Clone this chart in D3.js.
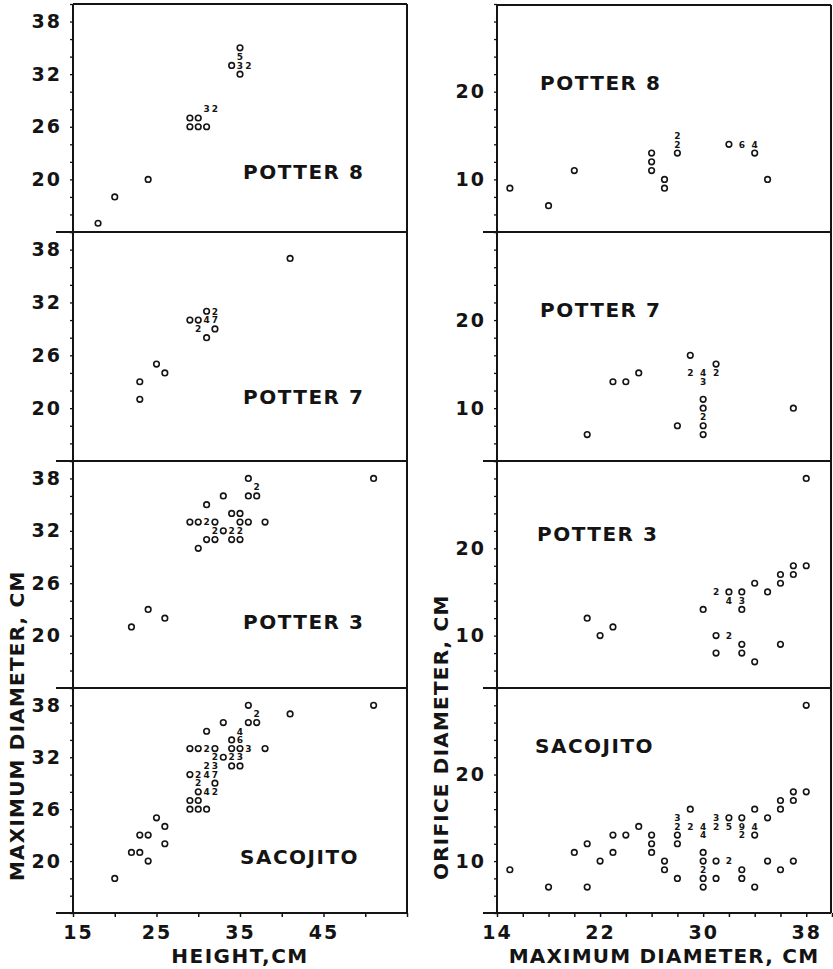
<!DOCTYPE html>
<html><head><meta charset="utf-8">
<script src="https://cdn.jsdelivr.net/npm/d3@7/dist/d3.min.js"></script>
<style>body{margin:0;background:#fff}svg{display:block}</style>
</head><body>
<svg id="c" width="833" height="969"></svg>
<script>
// ---------- DATA ----------
const panelNames = ["POTTER 8", "POTTER 7", "POTTER 3", "SACOJITO"];

// [height, max diameter, number of vessels] (n>1 is printed as a digit)
const potter8HeightMaxD = [[18,15,1],[20,18,1],[24,20,1],[29,27,1],[30,27,1],[29,26,1],[30,26,1],[31,26,1],[31,28,3],[32,28,2],[35,35,1],[35,34,5],[34,33,1],[35,33,3],[36,33,2],[35,32,1]];
const potter7HeightMaxD = [[41,37,1],[31,31,1],[32,31,2],[29,30,1],[30,30,1],[31,30,4],[32,30,7],[30,29,2],[32,29,1],[31,28,1],[25,25,1],[26,24,1],[23,23,1],[23,21,1]];
const potter3HeightMaxD = [[36,38,1],[37,37,2],[51,38,1],[33,36,1],[36,36,1],[37,36,1],[31,35,1],[34,34,1],[35,34,1],[29,33,1],[30,33,1],[31,33,2],[32,33,1],[35,33,1],[36,33,1],[38,33,1],[32,32,2],[33,32,1],[34,32,2],[35,32,2],[31,31,1],[32,31,1],[34,31,1],[35,31,1],[30,30,1],[22,21,1],[24,23,1],[26,22,1]];
const sacojitoHeightMaxD = [[36,38,1],[37,37,2],[51,38,1],[41,37,1],[33,36,1],[36,36,1],[37,36,1],[31,35,1],[35,35,4],[34,34,1],[35,34,6],[29,33,1],[30,33,1],[31,33,2],[32,33,1],[34,33,1],[35,33,1],[36,33,3],[38,33,1],[32,32,2],[33,32,1],[34,32,2],[35,32,3],[31,31,2],[32,31,3],[34,31,1],[35,31,1],[29,30,1],[30,30,2],[31,30,4],[32,30,7],[30,29,2],[32,29,1],[30,28,1],[31,28,4],[32,28,2],[29,27,1],[30,27,1],[29,26,1],[30,26,1],[31,26,1],[25,25,1],[26,24,1],[23,23,1],[24,23,1],[26,22,1],[22,21,1],[23,21,1],[24,20,1],[20,18,1]];

// [max diameter, orifice diameter, number of vessels]
const potter8MaxDOrifice = [[15,9,1],[18,7,1],[20,11,1],[26,13,1],[26,12,1],[26,11,1],[27,10,1],[27,9,1],[28,13,1],[28,14,2],[28,15,2],[32,14,1],[33,14,6],[34,14,4],[34,13,1],[35,10,1]];
const potter7MaxDOrifice = [[21,7,1],[23,13,1],[24,13,1],[25,14,1],[29,16,1],[29,14,2],[30,14,4],[31,15,1],[31,14,2],[30,13,3],[30,11,1],[30,10,1],[30,9,2],[30,8,1],[30,7,1],[28,8,1],[37,10,1]];
const potter3MaxDOrifice = [[38,28,1],[37,18,1],[38,18,1],[36,17,1],[37,17,1],[36,16,1],[34,16,1],[35,15,1],[31,15,2],[32,15,1],[33,15,1],[32,14,4],[33,14,3],[33,13,1],[30,13,1],[21,12,1],[22,10,1],[23,11,1],[31,10,1],[32,10,2],[33,9,1],[31,8,1],[33,8,1],[34,7,1],[36,9,1]];
const sacojitoMaxDOrifice = [[38,28,1],[37,18,1],[38,18,1],[36,17,1],[37,17,1],[36,16,1],[34,16,1],[29,16,1],[35,15,1],[32,15,1],[33,15,1],[28,15,3],[28,14,2],[29,14,2],[30,14,4],[31,15,3],[31,14,2],[32,14,5],[33,14,9],[34,14,4],[30,13,4],[33,13,2],[34,13,1],[28,13,1],[25,14,1],[24,13,1],[23,13,1],[26,13,1],[26,12,1],[28,12,1],[21,12,1],[20,11,1],[23,11,1],[26,11,1],[22,10,1],[27,10,1],[30,11,1],[30,10,1],[31,10,1],[32,10,2],[35,10,1],[37,10,1],[15,9,1],[27,9,1],[30,9,2],[33,9,1],[36,9,1],[18,7,1],[21,7,1],[28,8,1],[30,8,1],[31,8,1],[33,8,1],[30,7,1],[34,7,1]];

const heightDomain = [15, 55];
const maxDiamDomain = [14, 40];
const orificeDomain = [4, 30];
const heightTicks = [15, 20, 25, 30, 35, 40, 45, 50, 55];
const heightTickLabels = [15, 25, 35, 45];
const maxDiamTicks = [14,16,18,20,22,24,26,28,30,32,34,36,38,40];
const maxDiamTickLabels = [20, 26, 32, 38];
const maxDiamXTickLabels = [14, 22, 30, 38];
const orificeTicks = [4,6,8,10,12,14,16,18,20,22,24,26,28,30];
const orificeTickLabels = [10, 20];
const leftXTitle = "HEIGHT,CM";
const rightXTitle = "MAXIMUM DIAMETER, CM";
const leftYTitle = "MAXIMUM DIAMETER, CM";
const rightYTitle = "ORIFICE DIAMETER, CM";

const leftData = [potter8HeightMaxD, potter7HeightMaxD, potter3HeightMaxD, sacojitoHeightMaxD];
const rightData = [potter8MaxDOrifice, potter7MaxDOrifice, potter3MaxDOrifice, sacojitoMaxDOrifice];

// ---------- LAYOUT ----------
const svg = d3.select("#c");
const FONT = "'DejaVu Sans', sans-serif";
const INK = "#141414";
const panelTops = [4, 232, 461, 688];
const panelBottoms = [232, 461, 688, 913];
const L = {x0: 73, x1: 407, ext: 56};
const R = {x0: 497, x1: 831, ext: 483};
const leftLabelPos = [[243,179],[243,404],[243,629],[240,864]];
const rightLabelPos = [[540,90],[540,317],[537,541],[535,753]];

const xL = d3.scaleLinear().domain(heightDomain).range([L.x0, L.x1]);
const xR = d3.scaleLinear().domain(maxDiamDomain).range([R.x0, 832]);

function drawPoints(g, data, x, y) {
  data.filter(d => d[2] === 1).forEach(d => {
    g.append("circle").attr("cx", x(d[0])).attr("cy", y(d[1])).attr("r", 2.8)
      .attr("fill", "none").attr("stroke", INK).attr("stroke-width", 1.6);
  });
  data.filter(d => d[2] > 1).forEach(d => {
    g.append("text").attr("x", x(d[0])).attr("y", y(d[1])).attr("dy", "0.36em")
      .attr("text-anchor", "middle").attr("font-family", FONT).attr("font-weight", "bold")
      .attr("font-size", 9).attr("fill", INK).text(d[2]);
  });
}

function yAxis(g, y, ticks, labels, x0) {
  const ax = d3.axisLeft(y).tickValues(ticks).tickSize(3).tickPadding(8)
    .tickFormat(d => labels.includes(d) ? d : "");
  const a = g.append("g").attr("transform", `translate(${x0},0)`).call(ax);
  a.select(".domain").remove();
  a.selectAll("line").attr("stroke", INK).attr("stroke-width", 1.3);
  a.selectAll("text").attr("font-family", FONT).attr("font-weight", "bold")
    .attr("font-size", 19).attr("letter-spacing", "2px").attr("fill", INK);
}

function xAxis(g, x, ticks, labels, firstShift) {
  const ax = d3.axisBottom(x).tickValues(ticks).tickSize(4).tickPadding(9)
    .tickFormat(d => labels.includes(d) ? d : "");
  const a = g.append("g").attr("transform", `translate(0,${panelBottoms[3]})`).call(ax);
  a.select(".domain").remove();
  a.selectAll("line").attr("stroke", INK).attr("stroke-width", 1.5);
  a.selectAll("text").attr("font-family", FONT).attr("font-weight", "bold")
    .attr("font-size", 19).attr("letter-spacing", "2px").attr("fill", INK)
    .attr("dx", (d, i) => i === 0 ? firstShift : 0);
}

function line(x1, y1, x2, y2, w) {
  svg.append("line").attr("x1", x1).attr("y1", y1).attr("x2", x2).attr("y2", y2)
    .attr("stroke", INK).attr("stroke-width", w || 2);
}

for (let i = 0; i < 4; i++) {
  const yl = d3.scaleLinear().domain(maxDiamDomain).range([panelBottoms[i], panelTops[i]]);
  const yr = d3.scaleLinear().domain(orificeDomain).range([panelBottoms[i], panelTops[i]]);
  const gl = svg.append("g"), gr = svg.append("g");
  yAxis(gl, yl, maxDiamTicks, maxDiamTickLabels, L.x0);
  yAxis(gr, yr, orificeTicks, orificeTickLabels, R.x0);
  drawPoints(gl, leftData[i], xL, yl);
  drawPoints(gr, rightData[i], xR, yr);
  gl.append("text").attr("x", leftLabelPos[i][0]).attr("y", leftLabelPos[i][1])
    .attr("font-family", FONT).attr("font-weight", "bold").attr("font-size", 20)
    .attr("letter-spacing", "1.5px").attr("fill", INK).text(panelNames[i]);
  gr.append("text").attr("x", rightLabelPos[i][0]).attr("y", rightLabelPos[i][1])
    .attr("font-family", FONT).attr("font-weight", "bold").attr("font-size", 20)
    .attr("letter-spacing", "1.5px").attr("fill", INK).text(panelNames[i]);
  line(L.ext, panelBottoms[i], L.x1, panelBottoms[i]);
  line(R.ext, panelBottoms[i], R.x1, panelBottoms[i]);
}
// frames
line(L.x0, panelTops[0], L.x1, panelTops[0]);
line(R.x0, panelTops[0] + 1, R.x1, panelTops[0] + 1);
line(L.x0, panelTops[0], L.x0, panelBottoms[3]);
line(L.x1, panelTops[0], L.x1, panelBottoms[3]);
line(R.x0, panelTops[0] + 1, R.x0, panelBottoms[3]);
line(R.x1, panelTops[0] + 1, R.x1, panelBottoms[3]);

xAxis(svg.append("g"), xL, heightTicks, heightTickLabels, 5);
xAxis(svg.append("g"), xR, maxDiamTicks, maxDiamXTickLabels, 0);

// titles
svg.append("text").attr("x", (L.x0 + L.x1) / 2).attr("y", 963).attr("text-anchor", "middle")
  .attr("font-family", FONT).attr("font-weight", "bold").attr("font-size", 20)
  .attr("letter-spacing", "1.5px").attr("fill", INK).text(leftXTitle);
svg.append("text").attr("x", (R.x0 + R.x1) / 2).attr("y", 963).attr("text-anchor", "middle")
  .attr("font-family", FONT).attr("font-weight", "bold").attr("font-size", 20)
  .attr("letter-spacing", "1.2px").attr("fill", INK).text(rightXTitle);
svg.append("text").attr("transform", "translate(24,881) rotate(-90)")
  .attr("font-family", FONT).attr("font-weight", "bold").attr("font-size", 20)
  .attr("letter-spacing", "1.2px").attr("fill", INK).text(leftYTitle);
svg.append("text").attr("transform", "translate(448,880) rotate(-90)")
  .attr("font-family", FONT).attr("font-weight", "bold").attr("font-size", 20)
  .attr("letter-spacing", "1.2px").attr("fill", INK).text(rightYTitle);
</script>
</body></html>
